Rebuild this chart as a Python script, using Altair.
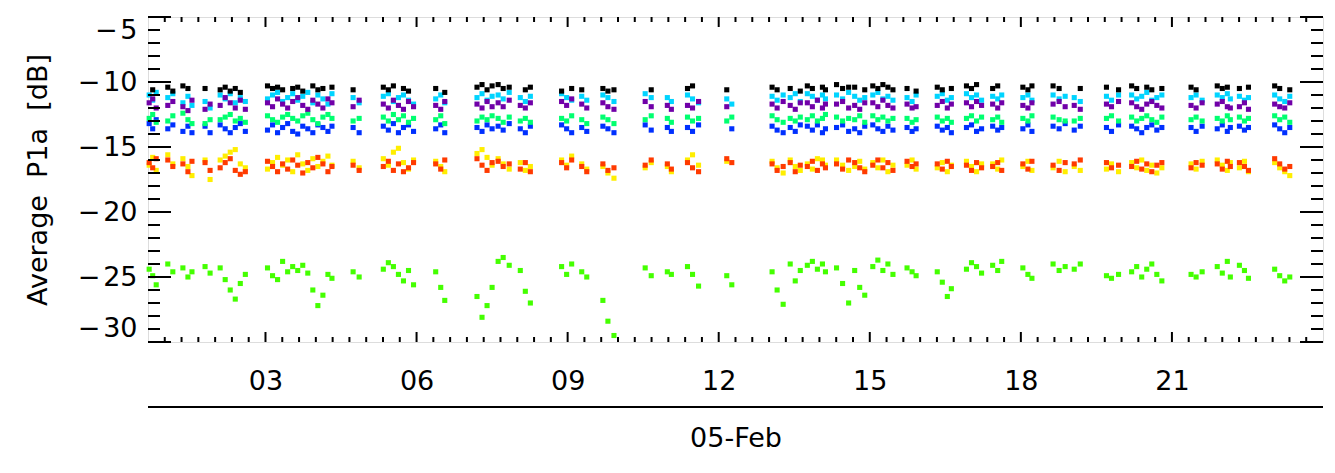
import altair as alt
import pandas as pd

N = None

# Time of each sample (hours of 05-Feb)
HOURS = [
    0.69, 0.76, 0.83,
    1.06, 1.16,
    1.36, 1.46, 1.54,
    1.80, 1.90,
    2.10, 2.20, 2.30, 2.40, 2.50, 2.60,
    3.04, 3.14, 3.24, 3.34, 3.44, 3.54, 3.64, 3.74, 3.84, 3.94, 4.04, 4.14, 4.24, 4.32,
    4.74, 4.86,
    5.34, 5.44, 5.54, 5.64, 5.74, 5.84, 5.94,
    6.38, 6.48, 6.56,
    7.20, 7.30, 7.40, 7.50,
    7.62, 7.72, 7.84,
    8.06, 8.16, 8.26,
    8.88, 8.98, 9.08,
    9.28, 9.38,
    9.70, 9.80, 9.92,
    10.54, 10.66,
    10.98, 11.06,
    11.38, 11.48, 11.60,
    12.16, 12.26,
    13.06, 13.16, 13.28,
    13.42, 13.52, 13.62,
    13.76, 13.86, 13.96, 14.06, 14.12,
    14.34, 14.46, 14.58,
    14.70, 14.80, 14.90,
    15.06, 15.16, 15.26, 15.36, 15.46,
    15.74, 15.84, 15.92,
    16.34, 16.44, 16.54, 16.62,
    16.92, 17.02, 17.12, 17.22,
    17.44, 17.54, 17.62,
    18.04, 18.14, 18.22,
    18.64, 18.76, 18.88,
    19.06, 19.18,
    19.70, 19.80, 19.94,
    20.20, 20.30, 20.40, 20.50, 20.60, 20.70, 20.80,
    21.38, 21.48, 21.60,
    21.90, 22.00, 22.10, 22.16,
    22.34, 22.44, 22.52,
    23.04, 23.14, 23.24, 23.34,
]

BLACK = [
    N, -10.6, N,
    -10.4, -10.7,
    -10.3, -10.5, N,
    -10.5, N,
    -10.6, -10.4, -10.7, -10.5, -10.8, N,
    -10.3, -10.5, -10.4, -10.6, N, -10.5, -10.4, -10.7, N, -10.3, -10.6, -10.5, N, -10.4,
    -10.6, N,
    -10.4, -10.6, -10.3, N, -10.5, -10.7, N,
    -10.5, N, -10.8,
    -10.4, -10.2, -10.6, -10.3,
    -10.2, -10.5, -10.4,
    N, -10.6, -10.4,
    -10.7, N, -10.5,
    -10.6, N,
    -10.5, -10.7, -10.6,
    N, -10.6,
    N, N,
    -10.5, -10.3, N,
    -10.6, N,
    -10.4, -10.6, N,
    -10.5, N, -10.7,
    -10.3, -10.5, N, -10.4, -10.6,
    -10.2, -10.5, -10.4,
    -10.4, N, -10.6,
    -10.3, -10.5, -10.2, -10.4, -10.6,
    -10.5, N, -10.7,
    -10.4, -10.6, N, -10.5,
    -10.3, -10.5, -10.2, N,
    -10.5, -10.3, N,
    -10.4, -10.6, -10.3,
    -10.3, -10.5, N,
    N, -10.5,
    -10.4, N, -10.6,
    -10.3, -10.5, N, -10.4, -10.6, N, -10.5,
    -10.4, -10.6, N,
    -10.3, -10.5, -10.4, N,
    -10.5, N, -10.4,
    -10.3, -10.5, N, -10.6,
]

CYAN = [
    -11.0, -11.4, -10.8,
    -11.2, -10.9,
    -11.6, -11.1, -11.8,
    -11.5, -12.0,
    -11.0, -11.3, -10.9, -11.6, -11.2, -11.5,
    -11.3, -11.0, -10.8, -11.5, -11.2, -10.9, -11.4, -11.1, -10.8, -11.6, -11.0, -11.3, -11.7, -10.9,
    -11.2, -11.6,
    -11.1, -10.9, -11.5, -11.2, -11.0, -11.4, -11.7,
    -11.3, -11.0, -11.6,
    -11.2, -10.9, -11.4, -11.1,
    -11.0, -11.3, -10.8,
    -11.2, -11.5, -11.1,
    -10.9, -11.2, -11.4,
    -11.1, -11.4,
    -11.0, -11.2, -11.5,
    -10.9, -11.2,
    -11.2, -11.5,
    -11.0, -11.3, -11.6,
    -11.3, -11.7,
    -11.1, -11.4, -11.0,
    -11.2, -10.9, -11.5,
    -10.9, -11.1, -11.4, -11.0, -11.3,
    -11.0, -11.3, -10.8,
    -11.1, -11.4, -11.2,
    -11.0, -10.8, -11.3, -11.1, -11.4,
    -11.2, -11.5, -11.0,
    -11.1, -10.9, -11.4, -11.2,
    -10.9, -11.2, -11.0, -11.4,
    -11.1, -11.3, -11.0,
    -11.2, -11.0, -11.4,
    -11.0, -11.3, -11.1,
    -11.2, -11.5,
    -11.1, -11.4, -11.0,
    -11.0, -11.3, -11.1, -10.8, -11.4, -11.2, -11.0,
    -11.2, -11.0, -11.4,
    -11.0, -11.2, -10.9, -11.3,
    -11.1, -11.4, -11.2,
    -11.0, -11.3, -11.5, -11.1,
]

PURPLE = [
    -11.6, -11.3, -12.0,
    -11.8, -11.5,
    -11.9, -12.2, -11.4,
    -12.1, -11.7,
    -11.8, -11.2, -11.6, -12.0, -11.4, -12.1,
    -11.6, -11.9, -11.3, -11.7, -12.0, -11.5, -11.2, -11.8, -12.1, -11.4, -11.7, -12.0, -11.3, -11.6,
    -11.9, -11.4,
    -11.7, -12.0, -11.4, -11.8, -12.1, -11.5, -11.9,
    -11.8, -12.1, -11.5,
    -11.7, -12.0, -11.5, -11.9,
    -11.6, -11.9, -11.4,
    -11.8, -12.0, -11.6,
    -11.5, -11.8, -11.3,
    -11.7, -12.0,
    -11.6, -11.9, -12.1,
    -11.5, -11.9,
    -11.8, -12.1,
    -11.8, -12.0, -11.5,
    -11.9, N,
    -11.7, -12.0, -11.5,
    -11.8, -12.1, -11.6,
    -11.6, -11.9, -11.4, -12.0, -11.7,
    -11.7, -11.5, -12.0,
    -11.8, -12.1, -11.6,
    -11.6, -11.9, -11.4, -11.8, -12.0,
    -11.7, -12.0, -11.9,
    -11.8, -11.5, -12.0, -11.7,
    -11.6, -11.9, -11.5, -11.8,
    -11.7, -12.0, -11.6,
    -11.8, -12.0, -11.6,
    -11.7, -11.5, -11.9,
    -11.8, -12.1,
    -11.7, -11.9, -11.5,
    -11.6, -11.9, -12.1, -11.7, -11.5, -11.8, -12.0,
    -11.8, -12.0, -11.6,
    -11.7, -11.5, -11.9, -12.0,
    -11.9, -11.6, -12.1,
    -11.7, -11.9, -12.0, -11.6,
]

GREEN = [
    -12.8, -12.5, -13.1,
    -13.0, -12.6,
    -12.4, -12.9, -13.2,
    -13.2, -12.9,
    -12.9, -12.7, -12.5, -13.0, -12.8, -13.1,
    -12.6, -12.9, -13.1, -12.7, -12.5, -12.8, -13.0, -12.6, -12.4, -12.9, -13.2, -12.7, -12.5, -12.8,
    -13.0, -12.8,
    -12.7, -13.0, -12.5, -12.9, -12.6, -13.1, -12.8,
    -12.9, -12.6, -13.2,
    -13.0, -12.7, -12.9, -12.6,
    -12.8, -13.1, -12.7,
    -13.0, -12.8, -13.1,
    -12.8, -13.0, -12.6,
    -12.9, -13.2,
    -12.7, -12.9, -13.2,
    -12.9, -12.6,
    -12.8, -13.1,
    -12.7, -13.0, -12.8,
    -13.0, -12.7,
    -12.6, -12.9, -13.1,
    -12.8, -13.0, -12.7,
    -12.9, -12.6, -13.0, -12.8, -12.5,
    -12.7, -13.0, -12.8,
    -12.9, -12.6, -13.1,
    -12.6, -12.9, -12.7, -13.0, -12.8,
    -12.8, -13.1, -12.9,
    -12.7, -13.0, -12.8, -13.1,
    -12.8, -12.6, -13.0, -12.7,
    -12.9, -12.7, -13.1,
    -12.8, -13.0, -12.6,
    -12.7, -12.9, -13.0,
    -13.0, -12.8,
    -12.8, -12.6, -13.0,
    -12.7, -13.0, -12.8, -12.6, -12.9, -13.1, -12.7,
    -12.9, -12.7, -13.0,
    -12.8, -13.0, -12.6, -12.9,
    -12.7, -13.0, -12.8,
    -12.6, -12.9, -12.7, -13.1,
]

BLUE = [
    -13.2, -13.6, -12.9,
    -13.6, -13.3,
    -13.8, -13.4, -13.9,
    -13.4, -13.9,
    -13.3, -13.6, -13.9, -13.5, -13.2, -13.8,
    -13.7, -13.3, -13.9, -13.5, -13.2, -13.8, -14.0, -13.4, -13.6, -13.9, -13.3, -13.5, -13.8, -13.4,
    -13.5, -13.9,
    -13.4, -13.7, -13.2, -13.9, -13.5, -13.3, -13.8,
    -13.6, -13.3, -13.9,
    -13.5, -13.8, -13.3, -13.6,
    -13.4, -13.7, -13.2,
    -13.6, -13.9, -13.4,
    -13.3, -13.6, -13.9,
    -13.5, -13.8,
    -13.4, -13.6, -13.9,
    -13.3, -13.7,
    -13.5, -13.8,
    -13.5, -13.8, -13.3,
    N, -13.6,
    -13.4, -13.7, -13.9,
    -13.5, -13.8, -13.3,
    -13.4, -13.7, -13.3, -13.9, -13.6,
    -13.5, -13.3, -13.8,
    -13.6, -13.9, -13.4,
    -13.3, -13.6, -13.8, -13.4, -13.7,
    -13.5, -13.8, -13.6,
    -13.4, -13.7, -13.5, -13.9,
    -13.5, -13.3, -13.8, -13.6,
    -13.4, -13.7, -13.5,
    -13.6, -13.3, -13.8,
    -13.4, -13.6, -13.2,
    -13.7, -13.4,
    -13.5, -13.8, -13.3,
    -13.4, -13.6, -13.9, -13.5, -13.3, -13.7, -13.5,
    -13.5, -13.8, -13.4,
    -13.6, -13.3, -13.8, -13.5,
    -13.4, -13.7, -13.5,
    -13.3, -13.6, -13.9, -13.5,
]

RED = [
    -16.2, -16.6, -15.9,
    -16.0, -16.5,
    -16.3, -16.9, -16.1,
    -16.2, -16.8,
    -16.6, -16.2, -15.9, -16.8, -17.1, -16.9,
    -16.1, -16.5, -16.9, -16.3, -16.7, -16.0, -16.4, -17.0, -16.2, -16.6, -15.8, -16.3, -16.9, -16.5,
    -16.4, -16.8,
    -16.5, -16.1, -16.8, -16.3, -16.9, -16.6, -16.2,
    -16.3, -16.7, -16.0,
    -15.9, -16.4, -16.8, -16.2,
    -16.1, -16.5, -16.3,
    -16.7, -16.2, -16.9,
    -16.2, -16.6, -16.0,
    -16.5, -16.9,
    -16.3, -16.8, -16.6,
    -16.4, -16.0,
    -16.3, -16.7,
    -16.2, -16.6, -16.9,
    -15.9, -16.2,
    -16.3, -16.8, -16.5,
    -16.2, -16.9, -16.4,
    -16.5, -16.1, -16.8, -16.3, -16.6,
    -16.3, -16.7, -16.0,
    -16.2, -16.6, -16.9,
    -16.4, -16.0, -16.6, -16.2, -16.8,
    -16.1, -16.5, -16.3,
    -16.3, -16.7, -16.1, -16.5,
    -16.4, -16.8, -16.2, -16.6,
    -16.5, -16.2, -16.8,
    -16.3, -16.7, -16.1,
    -16.4, -16.8, -16.2,
    -16.3, -16.0,
    -16.2, -16.6, -16.4,
    -16.5, -16.1, -16.7, -16.3, -16.9, -16.4, -16.2,
    -16.6, -16.2, -16.4,
    -16.3, -16.7, -16.1, -16.5,
    -16.2, -16.5, -16.8,
    -15.9, -16.3, -16.7, -16.5,
]

YELLOW = [
    -16.4, -15.8, -16.8,
    -15.6, -16.3,
    -15.9, -16.5, -17.2,
    -16.0, -17.5,
    -16.0, -15.7, -15.4, -15.2, -16.3, -16.6,
    -16.7, -16.2, -15.8, -16.4, -16.0, -16.9, -15.6, -16.3, -16.8, -15.9, -16.5, -16.1, -15.7, -16.4,
    -16.1, -16.6,
    -15.9, -16.4, -15.4, -15.1, -16.2, -16.7, -16.0,
    -16.1, -16.5, -16.9,
    -15.5, -15.2, -15.8, -16.4,
    -15.9, -16.3, -16.7,
    -16.2, -16.8, -16.5,
    -16.0, -16.4, -15.7,
    -16.3, -16.7,
    -16.5, -17.0, -17.4,
    -16.6, -16.2,
    -16.5, -16.9,
    -16.0, -15.6, -16.4,
    -16.1, N,
    -16.1, -16.6, -17.0,
    -16.0, -16.5, -16.8,
    -16.3, -16.7, -15.9, -16.0, -16.4,
    -16.0, -16.4, -16.8,
    -16.5, -16.1, -16.7,
    -16.2, -16.6, -16.0, -16.9, -16.4,
    -16.4, -16.0, -16.7,
    -16.6, -16.2, -16.9, -16.4,
    -16.1, -16.5, -16.9, -16.3,
    -16.3, -16.7, -16.0,
    -16.5, -16.1, -16.8,
    -16.6, -16.1, -16.9,
    -16.5, -16.8,
    -16.7, -16.3, -16.9,
    -16.2, -16.6, -16.0, -16.8, -16.4, -17.0, -16.6,
    -16.3, -16.7, -16.1,
    -16.0, -16.4, -16.8, -16.2,
    -16.6, -16.1, -16.9,
    -16.2, -16.6, -16.9, -17.2,
]

LIME = [
    -24.4, -24.9, -25.6,
    -24.0, -24.6,
    -24.3, -25.0, -24.6,
    -24.2, -24.7,
    -24.3, -25.2, -26.0, -26.7, -25.5, -24.8,
    -24.3, -24.9, -25.2, -23.8, -24.6, -24.2, -24.5, -24.1, -24.7, -26.0, -27.2, -26.4, -24.8, -25.1,
    -24.6, -25.0,
    -24.4, -23.9, -24.2, -24.8, -25.3, -24.5, -25.6,
    -24.6, -25.8, -26.8,
    -26.5, -28.1, -27.2, -25.8,
    -23.8, -23.5, -24.1,
    -24.5, -26.1, -27.0,
    -24.2, -24.8, -24.0,
    -24.6, -25.0,
    -26.8, -28.4, -29.5,
    -24.3, -24.9,
    -24.6, -24.8,
    -24.2, -24.8, -25.7,
    -24.9, -25.6,
    -24.6, -26.0, -27.1,
    -24.0, -25.3, -24.5,
    -24.1, -23.8, -24.4, -24.0, -24.6,
    -24.3, -25.5, -27.0,
    -24.5, -25.8, -26.4,
    -24.2, -23.7, -24.5, -24.0, -24.8,
    -24.3, -24.6, -24.9,
    -24.6, -25.4, -26.5, -25.9,
    -24.4, -23.9, -24.2, -24.7,
    -24.1, -24.5, -23.8,
    -24.3, -24.8, -25.1,
    -24.0, -24.5, -24.2,
    -24.4, -24.0,
    -24.9, -25.1, -24.8,
    -24.6, -24.2, -25.0, -24.4, -24.0, -24.8, -25.3,
    -24.8, -25.0, -24.6,
    -24.2, -24.7, -23.8, -25.0,
    -24.1, -24.5, -25.1,
    -24.4, -24.9, -25.3, -25.0,
]

SERIES_NAMES = ["lime", "blue", "green", "cyan", "purple", "black", "yellow", "red"]
SERIES_VALUES = [LIME, BLUE, GREEN, CYAN, PURPLE, BLACK, YELLOW, RED]
SERIES_COLORS = ["#44FF00", "#0030FF", "#00FF70", "#00D4FF", "#7000A8", "#000000", "#FFEE00", "#FF3A00"]

X_MAJOR = [3, 6, 9, 12, 15, 18, 21]
X_MINOR = [k / 3 for k in range(3, 72) if k % 9 != 0]
Y_MAJOR = [-30, -25, -20, -15, -10, -5]
Y_MINOR = [v for v in range(-29, -5) if v % 5 != 0]

rows = []
for name, vals in zip(SERIES_NAMES, SERIES_VALUES):
    for h, v in zip(HOURS, vals):
        if v is not None:
            rows.append({"hour": h, "db": v, "series": name})
df = pd.DataFrame(rows)

W, H = 1175, 325
FONT = "DejaVu Sans"
FS = 27
xscale = alt.Scale(domain=[0.667, 24.0], nice=False, zero=False)
yscale = alt.Scale(domain=[-30, -5], nice=False, zero=False)

xaxis = alt.Axis(
    values=X_MAJOR, format="02d", ticks=False, tickSize=0, domain=False, grid=False,
    labelFont=FONT, labelFontSize=FS, labelColor="black", labelPadding=26,
    title="05-Feb", titleFont=FONT, titleFontSize=FS,
    titleFontWeight="normal", titleColor="black", titleX=W / 2, titleY=96,
    titleAlign="center", titleBaseline="middle")
yaxis = alt.Axis(
    values=Y_MAJOR, ticks=False, tickSize=0, domain=False, grid=False,
    labelExpr="'\u2212\u200a' + format(-datum.value, 'd')",
    labelFont=FONT, labelFontSize=FS, labelColor="black", labelPadding=11,
    labelFlush=True,
    title="Average\u00a0\u00a0P1a\u00a0\u00a0[dB]", titleFont=FONT, titleFontSize=FS,
    titleFontWeight="normal", titleColor="black", titleAngle=270,
    titleX=-96, titleY=H / 2, titleAlign="center", titleBaseline="bottom")

points = alt.Chart(df).mark_square(size=26, opacity=1).encode(
    x=alt.X("hour:Q", scale=xscale, axis=xaxis),
    y=alt.Y("db:Q", scale=yscale, axis=yaxis),
    color=alt.Color("series:N", scale=alt.Scale(domain=SERIES_NAMES, range=SERIES_COLORS),
                    legend=None),
)


def xticks(vals, length, top):
    d = pd.DataFrame({"hour": vals})
    y0 = 0 if top else H
    y1 = length if top else H - length
    return alt.Chart(d).mark_rule(color="black", strokeWidth=2).encode(
        x=alt.X("hour:Q", scale=xscale, axis=xaxis),
        y=alt.value(y0), y2=alt.value(y1))


def yticks(vals, length, right):
    d = pd.DataFrame({"db": vals})
    x0 = W if right else 0
    x1 = W - length if right else length
    return alt.Chart(d).mark_rule(color="black", strokeWidth=2).encode(
        y=alt.Y("db:Q", scale=yscale, axis=yaxis),
        x=alt.value(x0), x2=alt.value(x1))


ticks = [
    xticks(X_MAJOR, 10, False), xticks(X_MINOR, 5, False),
    xticks(X_MAJOR, 10, True), xticks(X_MINOR, 5, True),
    yticks(Y_MAJOR, 23, False), yticks(Y_MINOR, 12, False),
    yticks(Y_MAJOR, 23, True), yticks(Y_MINOR, 12, True),
]

date_line = alt.Chart(pd.DataFrame({"k": [0]})).mark_rule(
    color="black", strokeWidth=2).encode(
    x=alt.value(0), x2=alt.value(W), y=alt.value(H + 65))

chart = alt.layer(points, *ticks, date_line).properties(
    width=W, height=H,
    padding={"left": 140, "top": 9, "right": 2, "bottom": 120},
    autosize=alt.AutoSizeParams(type="none"),
).configure_view(stroke="black", strokeWidth=2).configure(background="white")

chart.save("out.html", embed_options={"renderer": "svg", "actions": False})
